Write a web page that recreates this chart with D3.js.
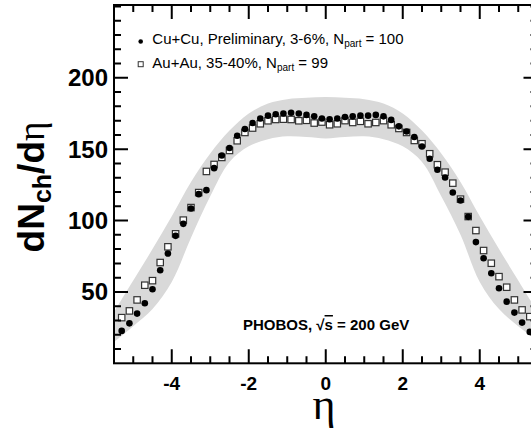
<!DOCTYPE html>
<html>
<head>
<meta charset="utf-8">
<script src="https://cdn.jsdelivr.net/npm/d3@7"></script>
<style>
  body { margin: 0; background: #fff; }
  svg { display: block; font-family: "Liberation Sans", Arial, sans-serif; }
</style>
</head>
<body>
<div id="chart"></div>
<script>
// pseudorapidity bin centres
const etaBins = [-5.3, -5.1, -4.9, -4.7, -4.5, -4.3, -4.1, -3.9, -3.7, -3.5, -3.3, -3.1, -2.9, -2.7, -2.5, -2.3, -2.1, -1.9, -1.7, -1.5, -1.3, -1.1, -0.9, -0.7, -0.5, -0.3, -0.1,
  0.1, 0.3, 0.5, 0.7, 0.9, 1.1, 1.3, 1.5, 1.7, 1.9, 2.1, 2.3, 2.5, 2.7, 2.9, 3.1, 3.3, 3.5, 3.7, 3.9, 4.1, 4.3, 4.5, 4.7, 4.9, 5.1, 5.3];

// Cu+Cu 3-6% (filled circles)
const cuCu = [22.7, 28.0, 34.8, 42.1, 51.9, 65.2, 76.9, 89.3, 97.7, 108.4, 118.5, 121.3, 136.7, 145.6, 150.8, 159.4, 164.1, 168.3, 171.5, 173.5, 174.5, 175.0, 175.5, 175.0, 174.0, 173.0, 171.5,
  171.0, 171.5, 172.5, 173.0, 173.5, 173.5, 174.0, 173.0, 170.5, 166.0, 162.4, 158.5, 151.9, 143.3, 135.6, 130.2, 119.6, 114.0, 102.6, 84.9, 73.6, 63.1, 52.6, 43.2, 35.5, 28.5, 22.0];

// Au+Au 35-40% (open squares)
const auAu = [32.0, 36.7, 44.4, 54.7, 57.9, 70.6, 81.6, 90.7, 100.3, 109.1, 119.6, 134.4, 139.3, 144.2, 149.1, 155.9, 161.7, 164.8, 167.8, 169.9, 170.8, 171.0, 170.8, 169.9, 170.2, 168.3, 169.0,
  167.1, 167.8, 170.0, 168.7, 169.5, 167.8, 168.7, 170.0, 167.1, 164.5, 161.7, 156.1, 153.8, 146.8, 139.1, 133.9, 126.2, 115.0, 102.8, 93.0, 79.0, 70.1, 60.7, 53.3, 44.4, 37.4, 32.7];

// systematic error band
const bandEta  = [-5.5, -5.0, -4.5, -4.0, -3.5, -3.0, -2.5, -2.0, -1.5, -1.0, -0.5, 0, 0.5, 1.0, 1.5, 2.0, 2.5, 3.0, 3.5, 4.0, 4.5, 5.0, 5.5];
const bandHigh = [36, 58, 80, 103, 127, 147, 163, 175, 182, 185, 186, 186.5, 186, 185, 182, 175, 163, 147, 127, 103, 80, 58, 36];
const bandLow  = [15, 26, 38, 57, 88, 117, 141, 152, 157, 159, 158.5, 157.5, 158.5, 159, 157, 152, 141, 117, 90, 57, 38, 26, 16];

const xTickLabels = [-4, -2, 0, 2, 4];
const yTickLabels = [50, 100, 150, 200];
const legendItems = [
  { marker: "circle", text: "Cu+Cu, Preliminary, 3-6%, N", sub: "part", tail: " = 100" },
  { marker: "square", text: "Au+Au, 35-40%, N", sub: "part", tail: " = 99" }
];

const W = 531, H = 432;
const frame = { left: 114, right: 537.5, top: 5, bottom: 363.3 };
const plotW = frame.right - frame.left;
const plotH = frame.bottom - frame.top;

const svg = d3.select("#chart").append("svg")
  .attr("width", W)
  .attr("height", H);

const x = d3.scaleLinear().domain([-5.5, 5.5]).range([frame.left, frame.right]);
const y = d3.scaleLinear().domain([0, 251]).range([frame.bottom, frame.top]);

svg.append("clipPath").attr("id", "plot-clip")
  .append("rect")
  .attr("x", frame.left).attr("y", frame.top)
  .attr("width", plotW)
  .attr("height", plotH);

// band
const band = d3.area()
  .x((d, i) => x(bandEta[i]))
  .y0((d, i) => y(bandLow[i]))
  .y1((d, i) => y(bandHigh[i]))
  .curve(d3.curveCatmullRom.alpha(0.5));

svg.append("path")
  .datum(bandEta)
  .attr("clip-path", "url(#plot-clip)")
  .attr("fill", "#d9d9d9")
  .attr("d", band);

// Au+Au squares
const sq = 6.4;
svg.append("g").selectAll("rect")
  .data(etaBins)
  .join("rect")
  .attr("x", (d) => x(d) - sq / 2)
  .attr("y", (d, i) => y(auAu[i]) - sq / 2)
  .attr("width", sq)
  .attr("height", sq)
  .attr("fill", "#fff")
  .attr("stroke", "#333")
  .attr("stroke-width", 1.2);

// Cu+Cu circles
svg.append("g").selectAll("circle")
  .data(etaBins)
  .join("circle")
  .attr("cx", (d) => x(d))
  .attr("cy", (d, i) => y(cuCu[i]))
  .attr("r", 3.3)
  .attr("fill", "#000");

// ticks pointing inward on all four sides, one path
const xMinor = d3.range(-5.5, 5.51, 0.5).filter(v => !xTickLabels.includes(v));
const yMinor = d3.range(10, 251, 10).filter(v => !yTickLabels.includes(v));
let tickPath = "";
xMinor.forEach(v => { tickPath += `M${x(v)},${frame.bottom}v-7M${x(v)},${frame.top}v7`; });
xTickLabels.forEach(v => { tickPath += `M${x(v)},${frame.bottom}v-14M${x(v)},${frame.top}v14`; });
yMinor.forEach(v => { tickPath += `M${frame.left},${y(v)}h7M${frame.right},${y(v)}h-7`; });
yTickLabels.forEach(v => { tickPath += `M${frame.left},${y(v)}h14M${frame.right},${y(v)}h-14`; });
svg.append("path")
  .attr("d", tickPath)
  .attr("fill", "none")
  .attr("stroke", "#000")
  .attr("stroke-width", 2);

// frame
svg.append("rect")
  .attr("x", frame.left).attr("y", frame.top)
  .attr("width", plotW)
  .attr("height", plotH)
  .attr("fill", "none")
  .attr("stroke", "#000")
  .attr("stroke-width", 2);

// tick labels
svg.append("g").selectAll("text")
  .data(xTickLabels)
  .join("text")
  .attr("x", d => x(d))
  .attr("y", 390)
  .attr("text-anchor", "middle")
  .attr("font-size", 19)
  .attr("font-weight", "bold")
  .text(d => String(d));

svg.append("g").selectAll("text")
  .data(yTickLabels)
  .join("text")
  .attr("x", 108)
  .attr("y", d => y(d) + 8.5)
  .attr("text-anchor", "end")
  .attr("font-size", 24)
  .attr("font-weight", "bold")
  .text(d => String(d));

// axis titles
svg.append("text")
  .attr("x", 324)
  .attr("y", 419)
  .attr("text-anchor", "middle")
  .attr("font-family", "'Liberation Serif', serif")
  .attr("font-size", 44)
  .text("η");

const yTitle = svg.append("text")
  .attr("transform", "translate(44,187) rotate(-90)")
  .attr("text-anchor", "middle")
  .attr("font-weight", "bold")
  .attr("font-size", 37);
yTitle.append("tspan").text("dN");
yTitle.append("tspan").attr("font-size", 25).attr("dy", 7).text("ch");
yTitle.append("tspan").attr("dy", -7).text("/d");
yTitle.append("tspan").attr("font-family", "'Liberation Serif', serif").attr("font-weight", "normal").text("η");

// legend
const legend = svg.append("g");
legendItems.forEach((item, i) => {
  const ly = 43.5 + i * 24.2;
  if (item.marker === "circle") {
    legend.append("circle").attr("cx", 140.7).attr("cy", ly - 2).attr("r", 2.3).attr("fill", "#000");
  } else {
    legend.append("rect").attr("x", 138.2).attr("y", ly - 6).attr("width", 5).attr("height", 5)
      .attr("fill", "#fff").attr("stroke", "#333").attr("stroke-width", 1);
  }
  const t = legend.append("text").attr("x", 152.3).attr("y", ly).attr("font-size", 15);
  t.append("tspan").text(item.text);
  t.append("tspan").attr("font-size", 10).attr("dy", 3.5).text(item.sub);
  t.append("tspan").attr("dy", -3.5).text(item.tail);
});

// experiment label
const lab = svg.append("text")
  .attr("x", 243).attr("y", 330)
  .attr("font-size", 15)
  .attr("font-weight", "bold");
lab.append("tspan").text("PHOBOS, √");
lab.append("tspan").style("text-decoration", "overline").text("s");
lab.append("tspan").text(" = 200 GeV");
</script>
</body>
</html>
